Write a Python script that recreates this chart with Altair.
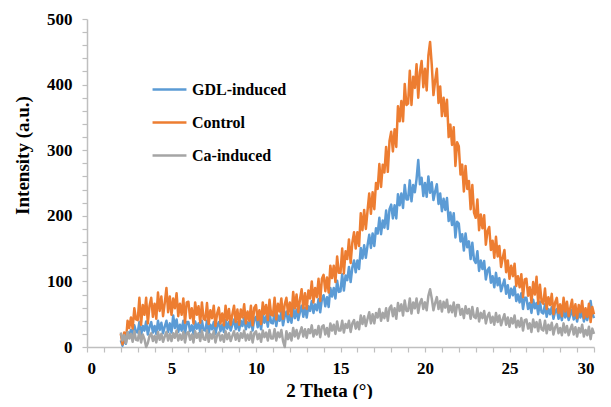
import altair as alt
import pandas as pd

# 2-theta grid (degrees), 0.1 step from 2.0 to 30.0
theta = [round(2.0 + 0.1 * i, 1) for i in range(281)]

control = [
    20, 4, 22, 7, 40, 29, 45, 28, 59, 42,
    41, 75, 34, 64, 49, 75, 36, 63, 75, 46,
    66, 43, 83, 55, 77, 47, 67, 90, 53, 77,
    49, 74, 59, 82, 47, 66, 49, 74, 37, 68,
    69, 44, 59, 36, 68, 49, 62, 37, 68, 43,
    41, 67, 35, 56, 44, 63, 32, 51, 60, 36,
    51, 33, 63, 41, 58, 34, 50, 63, 38, 57,
    34, 57, 45, 65, 36, 54, 40, 63, 33, 60,
    64, 41, 56, 35, 68, 50, 64, 41, 72, 49,
    48, 75, 42, 66, 54, 74, 43, 65, 75, 50,
    68, 47, 84, 59, 80, 53, 72, 88, 59, 82,
    58, 86, 74, 100, 68, 90, 76, 104, 70, 104,
    110, 85, 106, 83, 124, 105, 124, 99, 138, 113,
    113, 150, 112, 146, 134, 164, 128, 159, 175, 150,
    175, 154, 204, 178, 209, 180, 208, 234, 203, 236,
    210, 250, 241, 279, 244, 278, 266, 305, 267, 314,
    328, 298, 332, 305, 367, 344, 375, 344, 401, 369,
    371, 421, 369, 412, 395, 431, 380, 419, 436, 396,
    424, 391, 444, 465, 430, 384, 406, 424, 372, 397,
    352, 380, 352, 377, 320, 339, 308, 335, 276, 312,
    306, 263, 278, 237, 276, 241, 253, 210, 247, 205,
    197, 225, 178, 202, 181, 201, 156, 177, 183, 148,
    162, 136, 168, 138, 154, 122, 136, 148, 114, 132,
    104, 124, 108, 127, 93, 108, 91, 111, 76, 103,
    104, 78, 91, 68, 99, 80, 107, 66, 95, 69,
    66, 89, 58, 76, 64, 81, 50, 68, 75, 52,
    65, 47, 75, 54, 69, 47, 60, 72, 48, 65,
    44, 64, 53, 70, 44, 59, 46, 66, 38, 61,
    50,
]

gdl = [
    10, 2, 12, 5, 23, 17, 26, 17, 33, 23,
    22, 38, 18, 32, 25, 39, 19, 31, 38, 22,
    32, 20, 40, 26, 37, 21, 31, 40, 23, 36,
    22, 48, 29, 42, 23, 34, 25, 40, 20, 38,
    38, 24, 33, 20, 39, 28, 36, 22, 40, 26,
    25, 40, 21, 34, 27, 38, 20, 32, 38, 24,
    34, 23, 41, 28, 38, 25, 34, 42, 27, 38,
    25, 40, 32, 45, 27, 38, 30, 44, 25, 43,
    46, 30, 41, 27, 49, 37, 47, 31, 52, 37,
    36, 54, 32, 48, 40, 54, 33, 47, 54, 38,
    49, 37, 60, 44, 57, 41, 53, 63, 46, 60,
    45, 62, 55, 70, 52, 65, 56, 73, 53, 73,
    79, 62, 76, 61, 90, 77, 90, 74, 101, 84,
    85, 111, 86, 109, 102, 122, 99, 121, 132, 114,
    132, 119, 151, 135, 155, 136, 155, 171, 151, 173,
    154, 181, 173, 197, 172, 193, 182, 208, 180, 210,
    217, 196, 216, 196, 233, 216, 234, 212, 247, 225,
    225, 254, 222, 247, 236, 256, 285, 248, 258, 230,
    250, 229, 260, 235, 251, 224, 237, 248, 218, 234,
    207, 226, 209, 227, 192, 205, 186, 204, 167, 191,
    188, 161, 172, 147, 173, 152, 161, 134, 159, 133,
    128, 146, 116, 132, 119, 131, 103, 117, 121, 98,
    108, 91, 113, 94, 105, 85, 94, 103, 81, 94,
    75, 89, 79, 92, 70, 80, 68, 82, 58, 75,
    75, 58, 67, 52, 72, 59, 67, 50, 69, 53,
    51, 65, 46, 58, 50, 61, 43, 54, 58, 43,
    52, 41, 58, 45, 54, 41, 49, 57, 42, 52,
    39, 52, 45, 57, 39, 49, 41, 53, 70, 51,
    44,
]

ca = [
    22, 10, 18, 6, 23, 13, 20, 8, 24, 11,
    10, 24, 7, 19, 12, 0, 6, 17, 21, 9,
    17, 7, 23, 11, 20, 8, 16, 23, 10, 20,
    9, 21, 14, 25, 10, 19, 11, 23, 7, 21,
    23, 11, 19, 7, 24, 14, 21, 9, 25, 12,
    11, 25, 8, 20, 13, 24, 7, 18, 22, 10,
    18, 8, 24, 12, 21, 9, 17, 24, 11, 21,
    9, 21, 14, 25, 10, 19, 11, 23, 7, 21,
    24, 12, 20, 8, 25, 15, 22, 10, 26, 13,
    13, 27, 10, 22, 15, 26, 9, 0, 24, 12,
    21, 10, 29, 16, 26, 13, 22, 30, 16, 27,
    14, 27, 21, 33, 16, 26, 19, 32, 15, 31,
    33, 19, 29, 16, 36, 25, 34, 20, 39, 25,
    25, 40, 22, 35, 29, 40, 23, 36, 41, 28,
    38, 27, 48, 35, 47, 32, 43, 53, 36, 50,
    36, 52, 45, 58, 40, 52, 44, 59, 40, 59,
    63, 47, 59, 43, 67, 55, 65, 48, 71, 55,
    55, 74, 51, 68, 59, 74, 52, 67, 73, 58,
    68, 56, 78, 88, 74, 56, 67, 76, 58, 70,
    54, 69, 60, 72, 53, 63, 53, 68, 47, 64,
    64, 49, 58, 44, 62, 51, 58, 43, 61, 46,
    44, 59, 39, 52, 44, 55, 36, 47, 52, 37,
    46, 34, 52, 38, 48, 33, 42, 50, 34, 45,
    31, 44, 36, 48, 30, 40, 31, 44, 25, 41,
    42, 28, 36, 23, 42, 30, 38, 24, 41, 27,
    25, 40, 21, 34, 26, 37, 19, 30, 35, 21,
    29, 18, 36, 22, 32, 18, 27, 34, 19, 30,
    16, 29, 22, 34, 16, 26, 18, 31, 12, 28,
    20,
]

series_names = ["GDL-induced", "Control", "Ca-induced"]
series_colors = ["#5B9BD5", "#ED7D31", "#A5A5A5"]
series_values = [gdl, control, ca]

frames = []
for name, vals in zip(series_names, series_values):
    frames.append(pd.DataFrame({"theta": theta, "intensity": vals, "series": name}))
df = pd.concat(frames, ignore_index=True)

FONT = "Liberation Serif"

color = alt.Color(
    "series:N",
    scale=alt.Scale(domain=series_names, range=series_colors),
    legend=alt.Legend(
        title=None,
        orient="none",
        legendX=64,
        legendY=52,
        symbolType="stroke",
        symbolSize=1150,
        symbolStrokeWidth=2.5,
        labelFont=FONT,
        labelFontSize=16,
        labelFontWeight="bold",
        labelColor="black",
        labelOffset=4,
        rowPadding=6,
        padding=0,
    ),
)

x_enc = alt.X(
    "theta:Q",
    scale=alt.Scale(domain=[0, 30], nice=False),
    axis=alt.Axis(
        title="2 Theta (°)",
        values=list(range(0, 31)),
        labelExpr="datum.value % 5 == 0 ? datum.label : ''",
        grid=False,
        domainColor="#BFBFBF",
        domainWidth=1.5,
        tickColor="#BFBFBF",
        tickWidth=1.2,
        tickSize=5,
        labelFont=FONT,
        labelFontSize=17,
        labelFontWeight="bold",
        labelColor="black",
        labelPadding=8,
        titleFont=FONT,
        titleFontSize=19,
        titleFontWeight="bold",
        titleColor="black",
        titleX=242,
        titleY=43,
        titleBaseline="middle",
        titleAlign="center",
    ),
)

y_enc = alt.Y(
    "intensity:Q",
    scale=alt.Scale(domain=[0, 500], nice=False),
    axis=alt.Axis(
        title="Intensity (a.u.)",
        values=list(range(0, 501, 20)),
        labelExpr="datum.value % 100 == 0 ? datum.label : ''",
        grid=False,
        domainColor="#BFBFBF",
        domainWidth=1.5,
        tickColor="#BFBFBF",
        tickWidth=1.2,
        tickSize=5,
        labelFont=FONT,
        labelFontSize=17,
        labelFontWeight="bold",
        labelColor="black",
        labelPadding=10,
        titleFont=FONT,
        titleFontSize=19,
        titleFontWeight="bold",
        titleColor="black",
        titleAngle=270,
        titleX=-65,
        titleY=136,
        titleBaseline="middle",
        titleAlign="center",
    ),
)

layers = []
for name in series_names:
    layers.append(
        alt.Chart(df)
        .transform_filter(alt.datum.series == name)
        .mark_line(strokeWidth=2.5, strokeJoin="round")
        .encode(x=x_enc, y=y_enc, color=color)
    )

chart = (
    alt.layer(*layers)
    .properties(
        width=507,
        height=328,
        autosize=alt.AutoSizeParams(type="none"),
        padding={"left": 79, "top": 11, "right": 9, "bottom": 52},
        background="white",
    )
    .configure(font=FONT)
    .configure_view(stroke=None)
)

chart.save("out.html", embed_options={"renderer": "svg", "actions": False})
